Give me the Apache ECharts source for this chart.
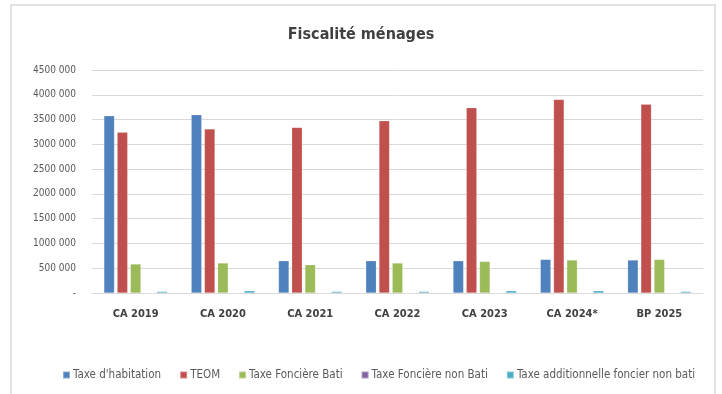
<!DOCTYPE html>
<html>
<head>
<meta charset="utf-8">
<script src="https://cdn.jsdelivr.net/npm/echarts@6/dist/echarts.min.js"></script>
<style>
  html, body { margin: 0; padding: 0; background: #fff; }
  #chart { width: 722px; height: 394px; }
</style>
</head>
<body>
<div id="chart"></div>
<script>
// Categories (budget years)
const categories = ['CA 2019', 'CA 2020', 'CA 2021', 'CA 2022', 'CA 2023', 'CA 2024*', 'BP 2025'];

// Household tax revenue per line (euros)
const taxeHabitation     = [3575000, 3595000, 650000, 650000, 650000, 677000, 665000];
const teom               = [3246000, 3310000, 3340000, 3474000, 3736000, 3903000, 3810000];
const fonciereBati       = [585000, 605000, 570000, 605000, 637000, 665000, 677000];
const fonciereNonBati    = [0, 0, 0, 0, 0, 0, 0];
const additionnelleNonBati = [30000, 45000, 30000, 30000, 45000, 45000, 30000];

const seriesNames = ['Taxe d\'habitation', 'TEOM', 'Taxe Foncière Bati', 'Taxe Foncière non Bati', 'Taxe additionnelle foncier non bati'];
const seriesData = [taxeHabitation, teom, fonciereBati, fonciereNonBati, additionnelleNonBati];
const colors = ['#4f81bd', '#c0504d', '#9bbb59', '#8064a2', '#4bacc6'];

const font = '"DejaVu Sans Condensed", "DejaVu Sans", sans-serif';

function fmt(v) {
  if (v === 0) return '-';
  const s = String(Math.round(v));
  const head = s.slice(0, s.length - 3);
  const tail = s.slice(-3);
  return head + ' ' + tail;
}

const chart = echarts.init(document.getElementById('chart'), null, { renderer: 'canvas' });
chart.setOption({
  backgroundColor: '#ffffff',
  animation: false,
  color: colors,
  graphic: [{
    type: 'rect',
    shape: { x: 11, y: 5, width: 704, height: 400 },
    style: { fill: 'none', stroke: '#d9d9d9', lineWidth: 1.5 },
    silent: true
  }],
  title: {
    text: 'Fiscalité ménages',
    left: 'center',
    top: 22,
    textStyle: { fontFamily: font, fontSize: 16, fontWeight: 'bold', color: '#404040' }
  },
  grid: { left: 92, right: 19, top: 70, bottom: 101, containLabel: false },
  legend: {
    data: seriesNames,
    left: 57,
    top: 364,
    icon: 'rect',
    itemWidth: 7,
    itemHeight: 7,
    itemGap: 18,
    width: 700,
    textStyle: { fontFamily: font, fontSize: 11.5, color: '#595959', padding: [0, 0, 0, -2] }
  },
  xAxis: {
    type: 'category',
    data: categories,
    axisLine: { lineStyle: { color: '#d9d9d9', width: 1 } },
    axisTick: { show: false },
    axisLabel: { fontFamily: font, fontSize: 11, fontWeight: 'bold', color: '#404040', margin: 16 }
  },
  yAxis: {
    type: 'value',
    min: 0,
    max: 4500000,
    interval: 500000,
    axisLine: { show: false },
    axisTick: { show: false },
    splitLine: { lineStyle: { color: '#d9d9d9', width: 1 } },
    axisLabel: { fontFamily: font, fontSize: 10, color: '#595959', margin: 16, formatter: fmt }
  },
  series: seriesNames.map((name, i) => ({
    name: name,
    type: 'bar',
    data: seriesData[i],
    barWidth: 10.5,
    barGap: '26%',
    barCategoryGap: '27%',
    itemStyle: { color: colors[i], borderColor: 'rgba(255,255,255,0.35)', borderWidth: 0.5 }
  }))
});
</script>
</body>
</html>
